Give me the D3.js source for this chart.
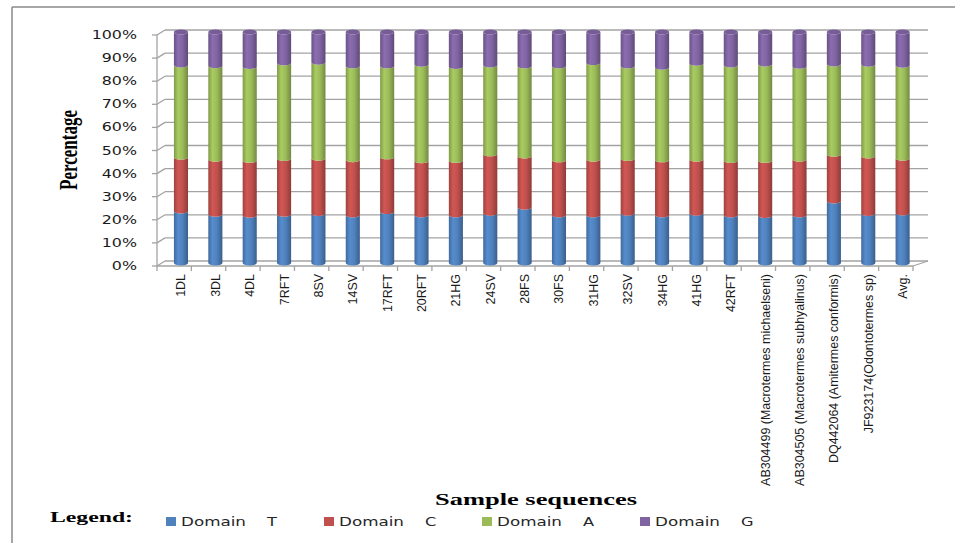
<!DOCTYPE html>
<html>
<head>
<meta charset="utf-8">
<script src="https://cdn.jsdelivr.net/npm/d3@7/dist/d3.min.js"></script>
<style>
  html, body { margin: 0; padding: 0; background: #ffffff; }
  svg { display: block; }
</style>
</head>
<body>
<svg id="chart" width="955" height="543"></svg>
<script>
// Sample sequences and the share (%) of each domain in them
const categories = [
  "1DL", "3DL", "4DL", "7RFT", "8SV", "14SV", "17RFT", "20RFT", "21HG", "24SV", "28FS",
  "30FS", "31HG", "32SV", "34HG", "41HG", "42RFT",
  "AB304499 (Macrotermes michaelseni)", "AB304505 (Macrotermes subhyalinus)",
  "DQ442064 (Amitermes conformis)", "JF923174(Odontotermes sp)", "Avg."
];
const domainT = [22.5, 21.1, 20.6, 21.1, 21.4, 20.8, 22.2, 20.8, 20.8, 21.5, 24.1,
                 20.8, 20.8, 21.5, 20.8, 21.5, 20.8, 20.5, 20.8, 26.8, 21.4, 21.6];
const domainC = [23.3, 23.8, 23.8, 24.1, 23.9, 23.9, 23.7, 23.4, 23.6, 25.7, 22.2,
                 23.8, 24.1, 23.7, 23.8, 23.4, 23.5, 23.9, 24.1, 20.2, 24.9, 23.7];
const domainA = [39.9, 40.5, 40.6, 41.4, 41.6, 40.6, 39.4, 41.8, 40.6, 38.5, 39.0,
                 40.7, 41.8, 40.1, 40.1, 41.5, 41.4, 41.7, 40.2, 39.1, 39.7, 40.3];
const domainG = [14.3, 14.6, 15.0, 13.4, 13.1, 14.7, 14.7, 14.0, 15.0, 14.3, 14.7,
                 14.7, 13.3, 14.7, 15.3, 13.6, 14.3, 13.9, 14.9, 13.9, 14.0, 14.4];
const seriesKeys = ["T", "C", "A", "G"];
const seriesLabels = ["Domain", "Domain", "Domain", "Domain"];
const seriesLetters = ["T", "C", "A", "G"];
const seriesColors = ["#4F81BD", "#C0504D", "#9BBB59", "#8064A2"];
const yTicks = [0, 10, 20, 30, 40, 50, 60, 70, 80, 90, 100];

const rows = categories.map((c, i) => ({
  name: c, T: domainT[i], C: domainC[i], A: domainA[i], G: domainG[i]
}));

const svg = d3.select("#chart");
const gridColor = "#a3a3a3";

// Plot geometry: front plane, back wall offset (depth) and bar offset
const front = { left: 157, right: 913 };
const wallDX = 8, wallDY = -5, wallRight = 928;
const barDX = 6.8;

const x = d3.scaleBand().domain(categories)
  .range([front.left, front.right]).paddingInner(0.59).paddingOuter(0.295);
const step = x.step();
const yFront = d3.scaleLinear().domain([0, 100]).range([266, 35]);
const yBack = v => yFront(v) + wallDY;
const yBar = d3.scaleLinear().domain([0, 100]).range([263, 32]);

// Outer frame
svg.append("line").attr("x1", 12).attr("y1", 7).attr("x2", 12).attr("y2", 543)
  .attr("stroke", "#8a8a8a").attr("stroke-width", 1.5);
svg.append("line").attr("x1", 12).attr("y1", 7).attr("x2", 955).attr("y2", 7)
  .attr("stroke", "#8a8a8a").attr("stroke-width", 1.5);

// Walls: back gridlines, side-wall diagonals, floor edges
const walls = svg.append("g").attr("stroke", gridColor).attr("stroke-width", 1.3).attr("fill", "none");
walls.selectAll(".grid").data(yTicks).join("line")
  .attr("x1", front.left + wallDX).attr("x2", wallRight)
  .attr("y1", d => yBack(d)).attr("y2", d => yBack(d));
walls.selectAll(".side").data(yTicks).join("line")
  .attr("x1", front.left).attr("y1", d => yFront(d))
  .attr("x2", front.left + wallDX).attr("y2", d => yBack(d));
walls.append("line").attr("x1", front.left).attr("x2", front.right)
  .attr("y1", yFront(0)).attr("y2", yFront(0));
walls.append("line").attr("x1", front.right).attr("y1", yFront(0))
  .attr("x2", wallRight).attr("y2", yBack(0));
// Value axis line and ticks
walls.append("line").attr("x1", front.left).attr("x2", front.left)
  .attr("y1", yFront(100)).attr("y2", yFront(0));
walls.selectAll(".ytick").data(yTicks).join("line")
  .attr("x1", front.left - 5).attr("x2", front.left)
  .attr("y1", d => yFront(d)).attr("y2", d => yFront(d));
// Category ticks
walls.selectAll(".xtick").data(d3.range(categories.length + 1)).join("line")
  .attr("x1", i => front.left + i * step).attr("x2", i => front.left + i * step)
  .attr("y1", yFront(0)).attr("y2", yFront(0) + 5);

// Cylinder shading gradients
const defs = svg.append("defs");
seriesColors.forEach((col, i) => {
  const c = d3.color(col);
  const g = defs.append("linearGradient").attr("id", "cyl" + i)
    .attr("x1", 0).attr("x2", 1).attr("y1", 0).attr("y2", 0);
  g.append("stop").attr("offset", "0%").attr("stop-color", c.darker(0.55));
  g.append("stop").attr("offset", "30%").attr("stop-color", c.brighter(0.25));
  g.append("stop").attr("offset", "62%").attr("stop-color", c);
  g.append("stop").attr("offset", "100%").attr("stop-color", c.darker(0.85));
});

// Stacked cylinders
const stack = d3.stack().keys(seriesKeys)(rows);
const bw = x.bandwidth();
const rx = bw / 2, ry = 2.4;
function segPath(x0, yT, yB) {
  const x1 = x0 + bw;
  return `M${x0},${yT} A${rx},${ry} 0 0 0 ${x1},${yT} L${x1},${yB} A${rx},${ry} 0 0 1 ${x0},${yB} Z`;
}
const bars = svg.append("g");
stack.forEach((layer, si) => {
  bars.append("g").attr("fill", `url(#cyl${si})`)
    .selectAll("path").data(layer).join("path")
    .attr("d", d => segPath(x(d.data.name) + barDX, yBar(d[1]), yBar(d[0])));
});
// Top caps
const topLayer = stack[stack.length - 1];
bars.append("g").selectAll("ellipse").data(topLayer).join("ellipse")
  .attr("cx", d => x(d.data.name) + barDX + rx).attr("cy", d => yBar(d[1]))
  .attr("rx", rx).attr("ry", ry)
  .attr("fill", d3.color(seriesColors[3]).darker(0.2));

// Value axis labels
svg.append("g").selectAll("text").data(yTicks).join("text")
  .attr("transform", d => `translate(137,${yFront(d) + 4}) scale(1.38,1)`)
  .attr("text-anchor", "end")
  .attr("font-family", "DejaVu Sans, Verdana, sans-serif")
  .attr("font-size", 11.5).attr("fill", "#1a1a1a")
  .text(d => d + "%");

// Category labels (condensed, reading bottom to top)
svg.append("g").selectAll("text").data(categories).join("text")
  .attr("transform", d => `translate(${x(d) + barDX + rx + 4.5},274) rotate(-90) scale(0.89,0.86)`)
  .attr("text-anchor", "end")
  .attr("font-family", "'Liberation Sans Narrow', 'Arial Narrow', 'Liberation Sans', sans-serif")
  .attr("font-size", 14).attr("fill", "#1a1a1a")
  .text(d => d);

// Axis titles
svg.append("text")
  .attr("transform", "translate(77,150) rotate(-90)")
  .attr("text-anchor", "middle")
  .attr("font-family", "'Liberation Serif', 'Times New Roman', serif")
  .attr("font-weight", "bold").attr("font-size", 25)
  .attr("textLength", 80).attr("lengthAdjust", "spacingAndGlyphs")
  .text("Percentage");
svg.append("text")
  .attr("x", 536).attr("y", 505).attr("text-anchor", "middle")
  .attr("font-family", "'Liberation Serif', 'Times New Roman', serif")
  .attr("font-weight", "bold").attr("font-size", 16)
  .attr("textLength", 202).attr("lengthAdjust", "spacingAndGlyphs")
  .text("Sample sequences");

// Legend
svg.append("text")
  .attr("x", 50).attr("y", 522)
  .attr("font-family", "'Liberation Serif', 'Times New Roman', serif")
  .attr("font-weight", "bold").attr("font-size", 14.5)
  .attr("textLength", 83).attr("lengthAdjust", "spacingAndGlyphs")
  .text("Legend:");
const legend = svg.append("g");
seriesColors.forEach((col, i) => {
  const lx = 166 + i * 158;
  legend.append("rect").attr("x", lx).attr("y", 517).attr("width", 10).attr("height", 9).attr("fill", col);
  legend.append("text").attr("x", lx + 15).attr("y", 526)
    .attr("font-family", "DejaVu Sans, Verdana, sans-serif").attr("font-size", 12)
    .attr("fill", "#262626")
    .attr("textLength", 65).attr("lengthAdjust", "spacingAndGlyphs")
    .text(seriesLabels[i]);
  legend.append("text").attr("x", lx + 15 + 86).attr("y", 526)
    .attr("font-family", "DejaVu Sans, Verdana, sans-serif").attr("font-size", 12)
    .attr("fill", "#262626")
    .attr("transform", `translate(${(lx + 101) * -0.35},0) scale(1.35,1)`)
    .text(seriesLetters[i]);
});
</script>
</body>
</html>
